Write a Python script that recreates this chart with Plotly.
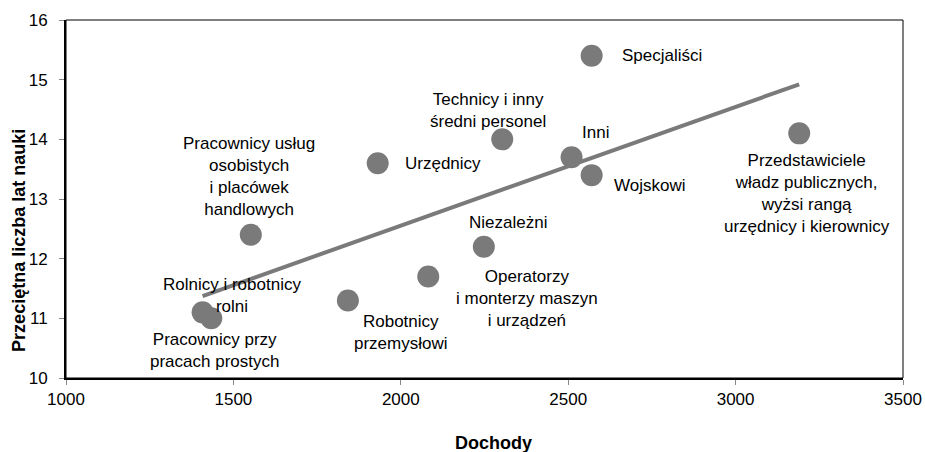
import numpy as np
import plotly.graph_objects as go

# Data
groups = [
    "Specjaliści",
    "Przedstawiciele<br>władz publicznych,<br>wyżsi rangą<br>urzędnicy i kierownicy",
    "Technicy i inny<br>średni personel",
    "Urzędnicy",
    "Inni",
    "Wojskowi",
    "Pracownicy usług<br>osobistych<br>i placówek<br>handlowych",
    "Rolnicy i robotnicy<br>rolni",
    "Pracownicy przy<br>pracach prostych",
    "Robotnicy<br>przemysłowi",
    "Operatorzy<br>i monterzy maszyn<br>i urządzeń",
    "Niezależni",
]
income = [2570, 3190, 2303, 1931, 2510, 2570, 1552, 1408, 1434, 1842, 2082, 2248]
years = [15.4, 14.1, 14.0, 13.6, 13.7, 13.4, 12.4, 11.1, 11.0, 11.3, 11.7, 12.2]

x_ticks = [1000, 1500, 2000, 2500, 3000, 3500]
y_ticks = [10, 11, 12, 13, 14, 15, 16]

# Label placement (pixel offsets from the point; anchor)
label_style = [
    (28, 0, "left"),
    (8, -60, "center"),
    (-14, 29, "center"),
    (25, 0, "left"),
    (24, 25, "center"),
    (20, -10, "left"),
    (-2, 58, "center"),
    (29, 17, "center"),
    (3, -32, "center"),
    (53, -32, "center"),
    (99, -22, "center"),
    (24, 24, "center"),
]

FONT = "Liberation Sans, Arial, sans-serif"
GREY = "#7a7a7a"

xs = np.array(income, dtype=float)
ys = np.array(years, dtype=float)
slope, intercept = np.polyfit(xs, ys, 1)
tx = np.array([xs.min(), xs.max()])
ty = slope * tx + intercept

fig = go.Figure()
fig.add_trace(go.Scatter(x=tx, y=ty, mode="lines",
                         line=dict(color=GREY, width=4), hoverinfo="skip",
                         showlegend=False))
fig.add_trace(go.Scatter(x=income, y=years, mode="markers",
                         marker=dict(color=GREY, size=22, line=dict(width=0)),
                         text=groups, showlegend=False))

annotations = []
for g, xv, yv, (dx, dy, anc) in zip(groups, income, years, label_style):
    annotations.append(dict(x=xv, y=yv, xref="x", yref="y", text=g,
                            showarrow=False, xshift=dx, yshift=dy,
                            xanchor=anc, yanchor="middle", align="center",
                            font=dict(family=FONT, size=17, color="#000")))
annotations.append(dict(x=0, y=0.383, xref="paper", yref="paper", xshift=-47,
                        text="<b>Przeciętna liczba lat nauki</b>", textangle=-90,
                        showarrow=False, xanchor="center", yanchor="middle",
                        font=dict(family=FONT, size=18, color="#000")))
annotations.append(dict(x=0.511, y=-0.1816, xref="paper", yref="paper",
                        text="<b>Dochody</b>", showarrow=False,
                        xanchor="center", yanchor="middle",
                        font=dict(family=FONT, size=18, color="#000")))

fig.update_layout(
    width=925, height=452,
    margin=dict(l=66, r=22, t=20, b=74, autoexpand=False),
    paper_bgcolor="white", plot_bgcolor="white",
    font=dict(family=FONT, size=17, color="#000"),
    annotations=annotations,
    shapes=[dict(type="rect", xref="x domain", yref="y domain",
                 x0=0, x1=1, y0=0, y1=1, line=dict(color="#000", width=1),
                 layer="below")],
    showlegend=False,
)
fig.update_xaxes(range=[1000, 3500], tickvals=x_ticks, ticks="outside",
                 ticklen=5, tickcolor="#888", showgrid=False, zeroline=False,
                 showline=True, linecolor="#000", linewidth=2,
                 automargin=False,
                 tickfont=dict(family=FONT, size=17, color="#000"))
fig.update_yaxes(range=[10, 16], tickvals=y_ticks, ticks="outside",
                 ticklen=5, tickcolor="#888", showgrid=False, zeroline=False,
                 showline=True, linecolor="#000", linewidth=2,
                 ticklabelstandoff=8, automargin=False,
                 tickfont=dict(family=FONT, size=17, color="#000"))

fig.write_html(
    "out.html",
    config={"displayModeBar": False},
    post_script="document.body.style.margin='0';document.body.style.overflow='hidden';",
)
